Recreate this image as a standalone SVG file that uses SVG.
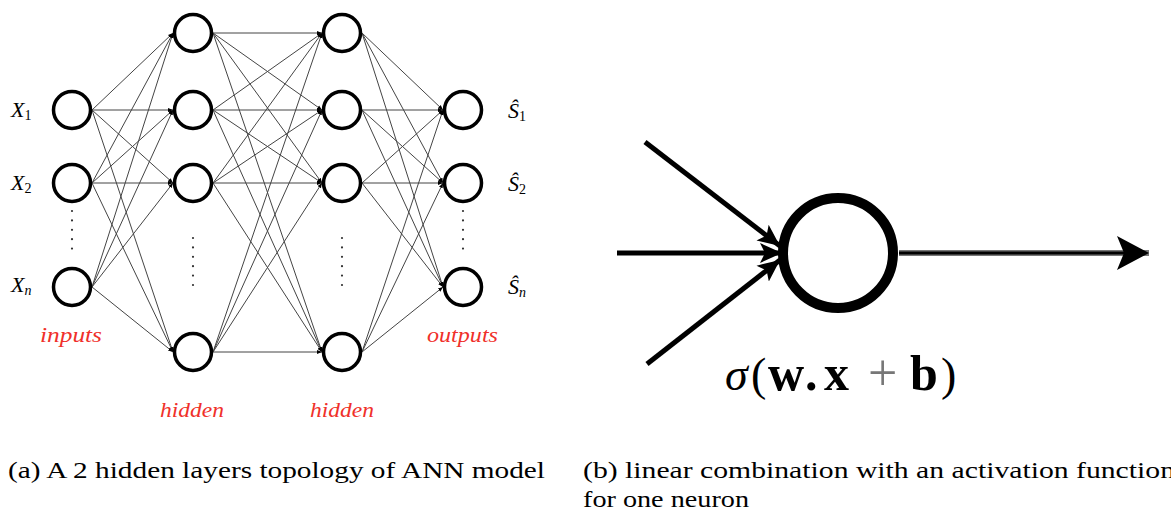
<svg xmlns="http://www.w3.org/2000/svg" width="1171" height="514" viewBox="0 0 1171 514">
<style>
.n{fill:#fff;stroke:#000;stroke-width:3.5}
.e{stroke:#444;stroke-width:1;fill:none;marker-end:url(#ah)}
.lab{font-family:"Liberation Serif",serif;font-style:italic;font-size:22px;fill:#000}
.sub{font-family:"Liberation Serif",serif;font-size:14px;font-style:normal}
.subi{font-family:"Liberation Serif",serif;font-size:14px;font-style:italic}
.red{font-family:"Liberation Serif",serif;font-style:italic;font-size:22px;fill:#f0302a}
.dot{stroke:#333;stroke-width:2.2;stroke-dasharray:0 9.4;stroke-linecap:round;fill:none}
.cap{font-family:"Liberation Serif",serif;font-size:23px;fill:#000}
.fm{font-family:"Liberation Serif",serif;font-size:46px;fill:#000}
.bd{font-weight:bold;font-size:50px}
</style>
<defs>
<marker id="ah" viewBox="0 0 10 10" refX="10" refY="5" markerWidth="5" markerHeight="5" markerUnits="userSpaceOnUse" orient="auto">
<path d="M0,1 L10,5 L0,9 z" fill="#000"/>
</marker>
<marker id="big" viewBox="0 0 36 36" refX="34" refY="18" markerWidth="36" markerHeight="36" markerUnits="userSpaceOnUse" orient="auto">
<path d="M2,1 L34,18 L2,35 L9,18 z" fill="#000"/>
</marker>
<marker id="mid" viewBox="0 0 24 24" refX="22" refY="12" markerWidth="24" markerHeight="24" markerUnits="userSpaceOnUse" orient="auto">
<path d="M0,2 L22,12 L0,22 L5,12 z" fill="#000"/>
</marker>
</defs>
<g id="connectors">
<line class="e" x1="92" y1="110" x2="173" y2="33"/>
<line class="e" x1="92" y1="110" x2="173" y2="110"/>
<line class="e" x1="92" y1="110" x2="173" y2="183"/>
<line class="e" x1="92" y1="110" x2="173" y2="352"/>
<line class="e" x1="92" y1="183" x2="173" y2="33"/>
<line class="e" x1="92" y1="183" x2="173" y2="110"/>
<line class="e" x1="92" y1="183" x2="173" y2="183"/>
<line class="e" x1="92" y1="183" x2="173" y2="352"/>
<line class="e" x1="92" y1="287" x2="173" y2="33"/>
<line class="e" x1="92" y1="287" x2="173" y2="110"/>
<line class="e" x1="92" y1="287" x2="173" y2="183"/>
<line class="e" x1="92" y1="287" x2="173" y2="352"/>
<line class="e" x1="213" y1="33" x2="322" y2="33"/>
<line class="e" x1="213" y1="33" x2="322" y2="110"/>
<line class="e" x1="213" y1="33" x2="322" y2="183"/>
<line class="e" x1="213" y1="33" x2="322" y2="352"/>
<line class="e" x1="213" y1="110" x2="322" y2="33"/>
<line class="e" x1="213" y1="110" x2="322" y2="110"/>
<line class="e" x1="213" y1="110" x2="322" y2="183"/>
<line class="e" x1="213" y1="110" x2="322" y2="352"/>
<line class="e" x1="213" y1="183" x2="322" y2="33"/>
<line class="e" x1="213" y1="183" x2="322" y2="110"/>
<line class="e" x1="213" y1="183" x2="322" y2="183"/>
<line class="e" x1="213" y1="183" x2="322" y2="352"/>
<line class="e" x1="213" y1="352" x2="322" y2="33"/>
<line class="e" x1="213" y1="352" x2="322" y2="110"/>
<line class="e" x1="213" y1="352" x2="322" y2="183"/>
<line class="e" x1="213" y1="352" x2="322" y2="352"/>
<line class="e" x1="362" y1="33" x2="443" y2="110"/>
<line class="e" x1="362" y1="33" x2="443" y2="183"/>
<line class="e" x1="362" y1="33" x2="443" y2="287"/>
<line class="e" x1="362" y1="110" x2="443" y2="110"/>
<line class="e" x1="362" y1="110" x2="443" y2="183"/>
<line class="e" x1="362" y1="110" x2="443" y2="287"/>
<line class="e" x1="362" y1="183" x2="443" y2="110"/>
<line class="e" x1="362" y1="183" x2="443" y2="183"/>
<line class="e" x1="362" y1="183" x2="443" y2="287"/>
<line class="e" x1="362" y1="352" x2="443" y2="110"/>
<line class="e" x1="362" y1="352" x2="443" y2="183"/>
<line class="e" x1="362" y1="352" x2="443" y2="287"/>
<line x1="645" y1="142" x2="780" y2="246" stroke="#000" stroke-width="5" marker-end="url(#mid)"/>
<line x1="617" y1="253" x2="782" y2="253" stroke="#000" stroke-width="5" marker-end="url(#mid)"/>
<line x1="647" y1="364" x2="780" y2="260" stroke="#000" stroke-width="5" marker-end="url(#mid)"/>
<line x1="899" y1="253" x2="1149" y2="253" stroke="#777" stroke-width="6" marker-end="url(#big)"/>
<line x1="899" y1="253" x2="1125" y2="253" stroke="#000" stroke-width="3"/>
</g>
<g id="dots">
<line class="dot" x1="72" y1="211" x2="72" y2="258"/>
<line class="dot" x1="193" y1="238" x2="193" y2="286"/>
<line class="dot" x1="342" y1="238" x2="342" y2="286"/>
<line class="dot" x1="463" y1="211" x2="463" y2="258"/>
</g>
<g id="input1"><circle class="n" cx="72" cy="110" r="18.5"/><text class="lab" x="11" y="117">X<tspan class="sub" dy="3">1</tspan></text></g>
<g id="input2"><circle class="n" cx="72" cy="183" r="18.5"/><text class="lab" x="11" y="190">X<tspan class="sub" dy="3">2</tspan></text></g>
<g id="inputn"><circle class="n" cx="72" cy="287" r="18.5"/><text class="lab" x="11" y="292">X<tspan class="subi" dy="3">n</tspan></text></g>
<g id="h1a"><circle class="n" cx="193" cy="33" r="18.5"/></g>
<g id="h1b"><circle class="n" cx="193" cy="110" r="18.5"/></g>
<g id="h1c"><circle class="n" cx="193" cy="183" r="18.5"/></g>
<g id="h1d"><circle class="n" cx="193" cy="352" r="18.5"/></g>
<g id="h2a"><circle class="n" cx="342" cy="33" r="18.5"/></g>
<g id="h2b"><circle class="n" cx="342" cy="110" r="18.5"/></g>
<g id="h2c"><circle class="n" cx="342" cy="183" r="18.5"/></g>
<g id="h2d"><circle class="n" cx="342" cy="352" r="18.5"/></g>
<g id="out1"><circle class="n" cx="463" cy="110" r="18.5"/><text class="lab" x="508" y="118">Ŝ<tspan class="sub" dy="3">1</tspan></text></g>
<g id="out2"><circle class="n" cx="463" cy="183" r="18.5"/><text class="lab" x="508" y="191">Ŝ<tspan class="sub" dy="3">2</tspan></text></g>
<g id="outn"><circle class="n" cx="463" cy="287" r="18.5"/><text class="lab" x="508" y="294">Ŝ<tspan class="subi" dy="3">n</tspan></text></g>
<g id="layerlabels">
<text class="red" x="40" y="342" textLength="62" lengthAdjust="spacingAndGlyphs">inputs</text>
<text class="red" x="160" y="417" textLength="64" lengthAdjust="spacingAndGlyphs">hidden</text>
<text class="red" x="310" y="417" textLength="64" lengthAdjust="spacingAndGlyphs">hidden</text>
<text class="red" x="427" y="342" textLength="71" lengthAdjust="spacingAndGlyphs">outputs</text>
</g>
<g id="neuron">
<circle cx="838" cy="253" r="55" fill="#fff" stroke="#000" stroke-width="10"/>
<text class="fm" y="390"><tspan x="725" font-style="italic">σ</tspan><tspan x="751">(</tspan><tspan x="768" class="bd">w</tspan><tspan x="805" class="bd">.</tspan><tspan x="824" class="bd">x</tspan><tspan x="868" fill="#777" font-size="52">+</tspan><tspan x="910" class="bd">b</tspan><tspan x="941">)</tspan></text>
</g>
<g id="captions">
<text class="cap" x="8" y="478" textLength="537" lengthAdjust="spacingAndGlyphs">(a) A 2 hidden layers topology of ANN model</text>
<text class="cap" x="583" y="478" textLength="592" lengthAdjust="spacingAndGlyphs">(b) linear combination with an activation function</text>
<text class="cap" x="583" y="507" textLength="166" lengthAdjust="spacingAndGlyphs">for one neuron</text>
</g>
</svg>
